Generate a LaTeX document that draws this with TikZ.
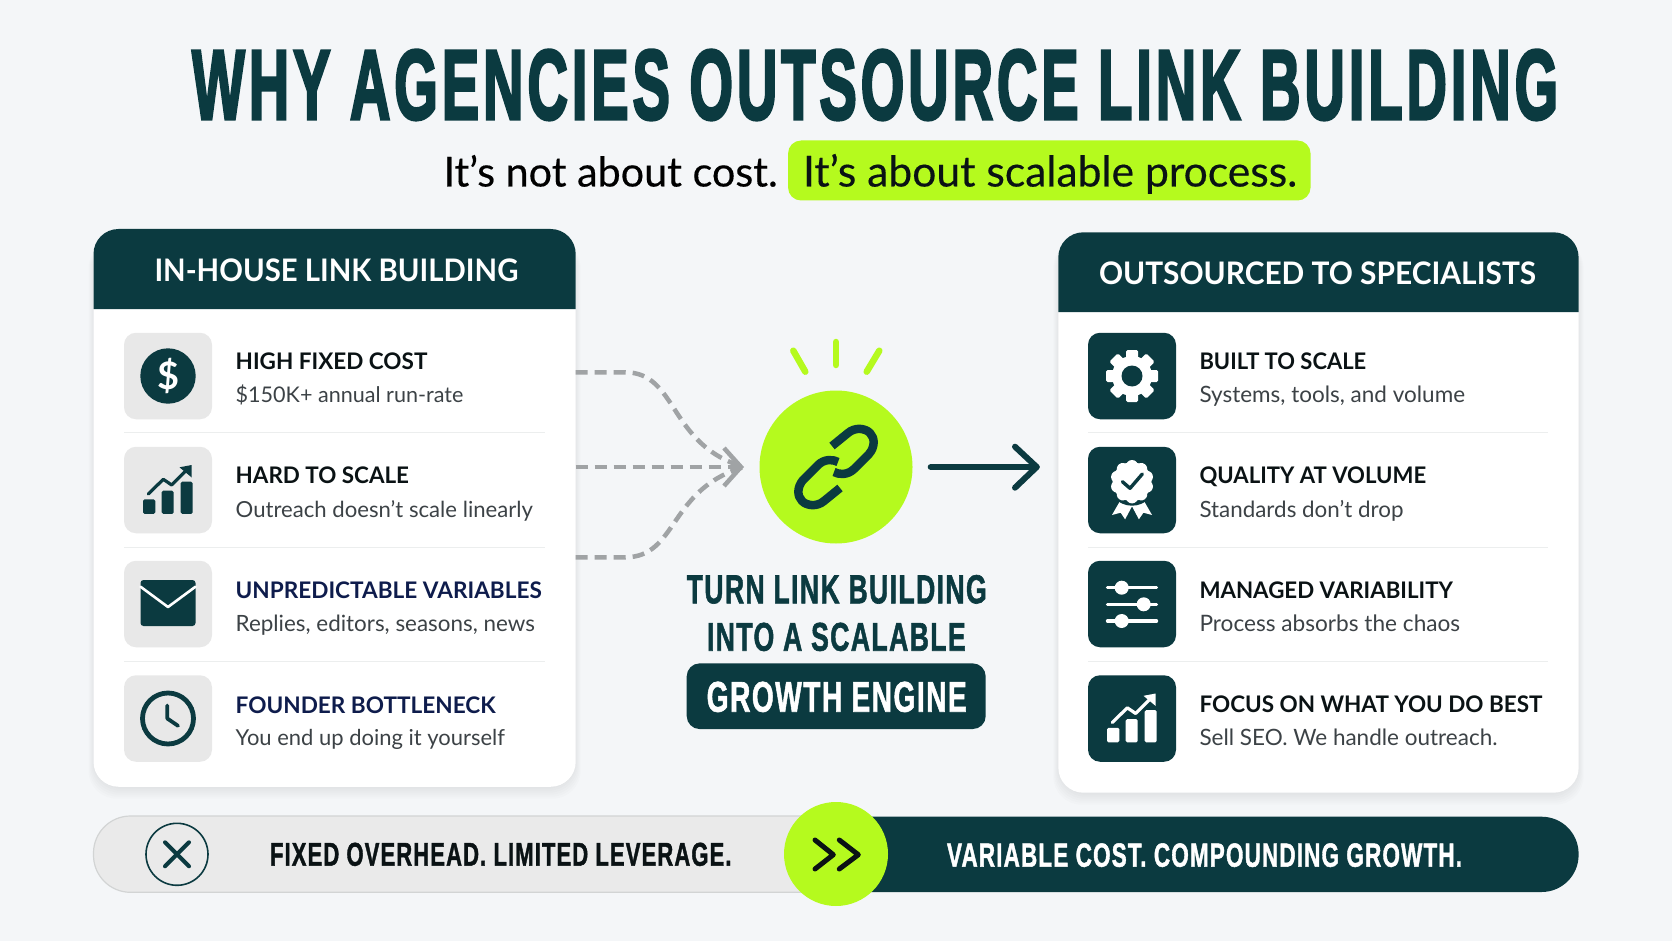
\documentclass[tikz,border=0pt]{standalone}
\usepackage{fontspec}
\usepackage{graphicx}
\usetikzlibrary{arrows.meta}
\setmainfont{Lato}
\newfontfamily\headf{Lato}
\newfontfamily\subf[FakeBold=0.35]{Lato}
\newfontfamily\condf[BoldFeatures={FakeBold=1.6},LetterSpace=5]{Liberation Sans}
\newfontfamily\titlef[BoldFeatures={FakeBold=3.4},LetterSpace=7]{Liberation Sans}
\definecolor{pagebg}{HTML}{F4F6F8}
\definecolor{teal}{HTML}{0B3A40}
\definecolor{lime}{HTML}{B5FA1E}
\definecolor{iconbg}{HTML}{E8E8E8}
\definecolor{rulec}{HTML}{ECEEEE}
\definecolor{inkc}{HTML}{0A1214}
\definecolor{navy}{HTML}{0E1C4C}
\definecolor{subc}{HTML}{3C4246}
\definecolor{dashc}{HTML}{A0A3A5}
\definecolor{barl}{HTML}{EAEAEA}
\definecolor{barb}{HTML}{D2D4D4}
\tikzset{
  tx/.style={anchor=base west,inner sep=0pt,outer sep=0pt},
  cardbody/.style={fill=white,rounded corners=25pt,inner sep=0pt,outer sep=0pt},
  iconl/.style={fill=iconbg,rounded corners=12pt,minimum width=88pt,minimum height=86.5pt,inner sep=0pt},
  iconr/.style={fill=teal,rounded corners=12pt,minimum width=88pt,minimum height=86.5pt,inner sep=0pt},
  divider/.style={draw=rulec,line width=1pt},
  inflow/.style={draw=dashc,line width=4.5pt,dash pattern=on 12pt off 7pt},
  outflow/.style={draw=teal,line width=6pt,line cap=round,line join=round},
  ray/.style={draw=lime,line width=6.5pt,line cap=round},
  linkp/.style={draw=teal,line width=8.5pt,line join=round}
}
\newcommand{\capline}[7]{\node[tx,text=#2,font=\headf\bfseries] (#1) at (#3-1,#4+1) {\resizebox{#5pt}{#6pt}{#7}};}
\newcommand{\subline}[6]{\node[tx,text=#2,font=\headf] (#1) at (#3-1,#4+1) {\resizebox{#5pt}{!}{#6}};}
\newcommand{\condline}[7]{\node[tx,text=#2,font=\condf\bfseries] (#1) at (#3,#4) {\resizebox{#5pt}{#6pt}{#7}};}
\newcommand{\cardshadow}[4]{%
  \foreach \s in {10,8,6,4,2,0}{
    \fill[black,opacity=0.012,rounded corners=28pt] (#1-\s*0.5,#2) rectangle (#3+\s*0.5,#4+\s+2);
  }}
\newcommand{\chartpic}[3]{%
  \begin{scope}[shift={(#1,#2)}]
    \fill[#3,rounded corners=1.5pt] (-25,9.3) rectangle (-12.7,23.8);
    \fill[#3,rounded corners=1.5pt] (-6.3,0.7) rectangle (5.7,23.8);
    \fill[#3,rounded corners=1.5pt] (12.7,-8.3) rectangle (24.7,23.8);
    \draw[#3,line width=3.2pt,line cap=round,line join=round] (-19.7,4) -- (-4.7,-10.7) -- (3.7,-5) -- (18,-19.5);
    \fill[#3] (23.7,-25) -- (11.5,-22.7) -- (23.7,-12.5) -- cycle;
  \end{scope}}
\begin{document}
\begin{tikzpicture}[x=1pt,y=-1pt]
\useasboundingbox (0,0) rectangle (1672,941);
\fill[pagebg] (0,0) rectangle (1672,941);

% title
\node[tx,text=teal,font=\titlef\bfseries] (title) at (192,119) {\resizebox{1366pt}{69pt}{WHY AGENCIES OUTSOURCE LINK BUILDING}};
\node[tx,text=black,font=\subf] (sub1) at (443.5,186.5) {\resizebox{334pt}{!}{It’s not about cost.}};
\node[fill=lime,rounded corners=13pt,minimum width=522.5pt,minimum height=60pt,inner sep=0pt] (hl) at (1049.3,170.5) {};
\node[tx,text=inkc,font=\subf] (sub2) at (803,186.5) {\resizebox{494pt}{!}{It’s about scalable process.}};

% left card
\cardshadow{93.5}{240}{575.7}{786.7}
\node[cardbody,minimum width=482.2pt,minimum height=557.7pt] (lcard) at (334.6,507.9) {};
\fill[teal] (93.5,309) [rounded corners=25pt] -- (93.5,229) -- (575.7,229) [sharp corners] -- (575.7,309) -- cycle;
\node[tx,text=white,font=\headf\bfseries] (lhead) at (154.5,281) {\resizebox{363.8pt}{22.7pt}{IN-HOUSE LINK BUILDING}};
\node[iconl] (il1) at (168,376) {};
\node[iconl] (il2) at (168,490) {};
\node[iconl] (il3) at (168,604) {};
\node[iconl] (il4) at (168,718.5) {};
\foreach \yy in {432.3,547,661} \draw[divider] (124,\yy) -- (545,\yy);

\capline{lh1}{inkc}{236.7}{368.3}{191.7}{16.7}{HIGH FIXED COST}
\subline{ls1}{subc}{236.7}{401.7}{227.7}{\$150K+ annual run-rate}
\capline{lh2}{inkc}{236.7}{482.7}{173.3}{16.7}{HARD TO SCALE}
\subline{ls2}{subc}{236.7}{516}{297.3}{Outreach doesn’t scale linearly}
\capline{lh3}{navy}{236.7}{597}{306}{16.7}{UNPREDICTABLE VARIABLES}
\subline{ls3}{subc}{236.7}{630.7}{299.3}{Replies, editors, seasons, news}
\capline{lh4}{navy}{236.7}{712}{260}{16.7}{FOUNDER BOTTLENECK}
\subline{ls4}{subc}{236.7}{744}{269.3}{You end up doing it yourself}

% dollar
\node[circle,fill=teal,minimum size=55.4pt,inner sep=0pt] (dollar) at (168,376) {};
\node[text=white,font=\headf\bfseries,inner sep=0pt] (dollart) at (dollar.center) {\resizebox{22pt}{!}{\$}};
% chart
\chartpic{168}{490}{teal}
% envelope
\begin{scope}[shift={(168,604)}]
  \fill[teal,rounded corners=3pt] (-27.5,-24) rectangle (27.5,22);
  \draw[white,line width=2.6pt,line join=round,line cap=round] (-27.5,-17.3) -- (0,3) -- (27.5,-17.3);
\end{scope}
% clock
\begin{scope}[shift={(168,718.5)}]
  \draw[teal,line width=4.8pt] (0,0) circle (25.5pt);
  \draw[teal,line width=3.8pt,line cap=round,line join=round] (-0.7,-13) -- (-0.7,0) -- (10,7.3);
\end{scope}

% right card
\cardshadow{1058.3}{240}{1578.6}{792.7}
\node[cardbody,minimum width=520.3pt,minimum height=560.4pt] (rcard) at (1318.5,512.5) {};
\fill[teal] (1058.3,312) [rounded corners=25pt] -- (1058.3,232.3) -- (1578.6,232.3) [sharp corners] -- (1578.6,312) -- cycle;
\node[tx,text=white,font=\headf\bfseries] (rhead) at (1099,284) {\resizebox{437pt}{22.7pt}{OUTSOURCED TO SPECIALISTS}};
\node[iconr] (ir1) at (1132,376) {};
\node[iconr] (ir2) at (1132,490) {};
\node[iconr] (ir3) at (1132,604) {};
\node[iconr] (ir4) at (1132,718.5) {};
\foreach \yy in {432.3,547,661} \draw[divider] (1088,\yy) -- (1548,\yy);

\capline{rh1}{inkc}{1200.5}{368.3}{166.7}{16.7}{BUILT TO SCALE}
\subline{rs1}{subc}{1200.5}{401.7}{265.5}{Systems, tools, and volume}
\capline{rh2}{inkc}{1200.5}{482.7}{226.6}{16.7}{QUALITY AT VOLUME}
\subline{rs2}{subc}{1200.5}{516}{204}{Standards don’t drop}
\capline{rh3}{inkc}{1200.5}{597.3}{253.4}{16.7}{MANAGED VARIABILITY}
\subline{rs3}{subc}{1200.5}{630.7}{260.7}{Process absorbs the chaos}
\capline{rh4}{inkc}{1200.5}{711.7}{343}{16.7}{FOCUS ON WHAT YOU DO BEST}
\subline{rs4}{subc}{1200.5}{744.3}{298}{Sell SEO. We handle outreach.}

% gear
\begin{scope}[shift={(1132,376)}]
  \foreach \a in {0,45,...,315}{
    \fill[white,rounded corners=1.5pt,rotate=\a] (-6,-26) rectangle (6,0);
  }
  \fill[white] (0,0) circle (20pt);
  \fill[teal] (0,0) circle (10.5pt);
\end{scope}
% badge
\begin{scope}[shift={(1132,490)}]
  \fill[white] (-11.4,10) -- (-20,25) -- (-11.4,22.7) -- (-6.9,29.3) -- (0.7,15) -- cycle;
  \fill[white] (11.4,10) -- (20,25) -- (11.4,22.7) -- (6.9,29.3) -- (-0.7,15) -- cycle;
  \fill[teal] (0,-8.3) circle (24pt);
  \foreach \a in {0,36,...,324}{
    \fill[white,rotate around={\a:(0,-8.3)}] (0,-24) circle (6pt);
  }
  \fill[white] (0,-8.3) circle (19.5pt);
  \draw[teal,line width=3.4pt,line cap=round,line join=round] (-9.6,-8.3) -- (-2,-1.7) -- (10.3,-16);
\end{scope}
% sliders
\begin{scope}[shift={(1132,604)}]
  \foreach \yy/\xx in {-16.3/-10.3,0.3/11.7,17/-10.3}{
    \draw[white,line width=3.4pt,line cap=round] (-24.5,\yy) -- (24.5,\yy);
    \fill[white] (\xx,\yy) circle (7pt);
  }
\end{scope}
% chart
\chartpic{1132}{718.5}{white}

% hub
\node[circle,fill=lime,minimum size=153pt,inner sep=0pt] (hub) at (836,467) {};
\draw[ray] (836,342) -- (836,365);
\draw[ray] (793.3,350.7) -- (805.3,371.7);
\draw[ray] (879.3,350.7) -- (866.7,371.7);
\begin{scope}[shift={(hub.center)}]
  \draw[linkp] (-4,-21) -- (12,-34) .. controls (19,-40) and (29,-39) .. (34,-34) .. controls (39,-29) and (39,-20) .. (33,-13) -- (18,2) .. controls (12,8) and (3,8) .. (-2,5);
  \draw[linkp] (4,21) -- (-12,34) .. controls (-19,40) and (-29,39) .. (-34,34) .. controls (-39,29) and (-39,20) .. (-33,13) -- (-18,-2) .. controls (-12,-8) and (-3,-8) .. (2,-5);
\end{scope}

% connectors
\coordinate (tip) at (744,467);
\coordinate (s1) at (lcard.east |- 0,372.3);
\coordinate (s2) at (lcard.east |- 0,467);
\coordinate (s3) at (lcard.east |- 0,557.3);
\coordinate (outend) at (1036.7,467);
\draw[inflow] (s1) -- (625,372.3) .. controls (678,372.3) and (668,445) .. (tip);
\draw[inflow] (s3) -- (625,557.3) .. controls (678,557.3) and (668,489) .. (tip);
\draw[inflow,-{Straight Barb[length=17pt,width=38pt,line width=4.5pt]}] (s2) -- (tip);
\draw[outflow] ([xshift=18pt]hub.east) -- (outend);
\draw[outflow] (1015,446.7) -- (outend) -- (1015,487.7);

% centre text
\condline{c1}{teal}{686.7}{603.3}{300}{28.3}{TURN LINK BUILDING}
\condline{c2}{teal}{707}{650.7}{258.7}{28}{INTO A SCALABLE}
\node[fill=teal,rounded corners=13pt,minimum width=299pt,minimum height=65.7pt,inner sep=0pt] (gbox) at (836.2,696.2) {};
\condline{c3}{white}{706.7}{711.7}{260}{30}{GROWTH ENGINE}

% bottom bar
\filldraw[fill=barl,draw=barb,line width=1.2pt] (860,816) [rounded corners=37pt] -- (93.5,816) -- (93.5,892.3) [sharp corners] -- (860,892.3) -- cycle;
\fill[teal] (840,816.7) [rounded corners=37pt] -- (1578.6,816.7) -- (1578.6,892) [sharp corners] -- (840,892) -- cycle;
\node[circle,draw=teal,line width=1.6pt,minimum size=62pt,inner sep=0pt] (xc) at (177,854.3) {};
\draw[teal,line width=4pt,line cap=round] (165,842.3) -- (189,866.3);
\draw[teal,line width=4pt,line cap=round] (189,842.3) -- (165,866.3);
\condline{b1}{inkc}{270}{865.7}{461.5}{23}{FIXED OVERHEAD. LIMITED LEVERAGE.}
\condline{b2}{white}{947}{866.7}{515}{23.4}{VARIABLE COST. COMPOUNDING GROWTH.}
\node[circle,fill=lime,minimum size=104pt,inner sep=0pt] (go) at (836,854) {};
\draw[inkc,line width=5pt,line cap=round,line join=round] (815,840) -- (833.3,854.7) -- (815,869);
\draw[inkc,line width=5pt,line cap=round,line join=round] (839.3,840) -- (858.3,854.7) -- (839.3,869);
\end{tikzpicture}
\end{document}
